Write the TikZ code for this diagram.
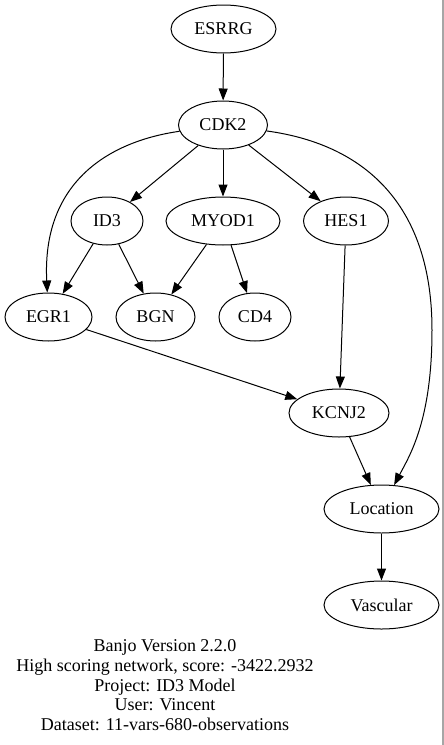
\documentclass[tikz,border=0pt]{standalone}
\usepackage{fontspec}
\setmainfont{Liberation Serif}
\usetikzlibrary{shapes.geometric,arrows.meta}
\tikzset{
	gene/.style={draw,ellipse,inner sep=0pt,minimum height=48pt,line width=1pt,font=\fontsize{18}{20}\selectfont},
	link/.style={-{Triangle[length=12pt,width=9pt]},line width=1pt},
	info/.style={anchor=base,inner sep=0pt,font=\fontsize{18}{20}\selectfont}
}
\begin{document}
\begin{tikzpicture}[x=1pt,y=-1pt]
	\useasboundingbox (0,0) rectangle (444,745);
	\draw [gray!70,line width=1.3pt](443,0) -- (443,745);
	\node[gene,minimum width=105pt] (esrrg) at (223.5,29) {ESRRG};
	\node[gene,minimum width=89pt] (cdk2) at (223,125) {CDK2};
	\node[gene,minimum width=72pt] (id3) at (107,221) {ID3};
	\node[gene,minimum width=114pt] (myod1) at (223,221) {MYOD1};
	\node[gene,minimum width=85pt] (hes1) at (346,221) {HES1};
	\node[gene,minimum width=87pt] (egr1) at (48.5,317) {EGR1};
	\node[gene,minimum width=79pt] (bgn) at (155.5,317) {BGN};
	\node[gene,minimum width=72pt] (cd4) at (255,317) {CD4};
	\node[gene,minimum width=100pt] (kcnj2) at (339,413) {KCNJ2};
	\node[gene,minimum width=115pt] (location) at (381.5,509) {Location};
	\node[gene,minimum width=115pt] (vascular) at (381.5,605) {Vascular};
	\coordinate (bend) at (432,330);
	\draw [link](esrrg) -- (cdk2);
	\draw [link](cdk2) -- (id3);
	\draw [link](cdk2) -- (myod1);
	\draw [link](cdk2) -- (hes1);
	\draw [link](cdk2) .. controls (105,142) and (42,185) .. (egr1);
	\draw [link](cdk2) .. controls (370,145) and (432,210) .. (bend) .. controls (432,420) and (410,455) .. (location);
	\draw [link](id3) -- (egr1);\draw [link](id3) -- (bgn);
	\draw [link](myod1) -- (bgn);\draw [link](myod1) -- (cd4);
	\draw [link](hes1) -- (kcnj2);
	\draw [link](egr1) -- (kcnj2);
	\draw [link](kcnj2) -- (location);
	\draw [link](location) -- (vascular);
	\node[info] (banjo) at (165,651) {Banjo Version 2.2.0};
	\node[info] (score) at (165,671) {High scoring network, score: -3422.2932};
	\node[info] (project) at (165,691) {Project: ID3 Model};
	\node[info] (user) at (165,710) {User: Vincent};
	\node[info] (dataset) at (165,730) {Dataset: 11-vars-680-observations};
\end{tikzpicture}
\end{document}
